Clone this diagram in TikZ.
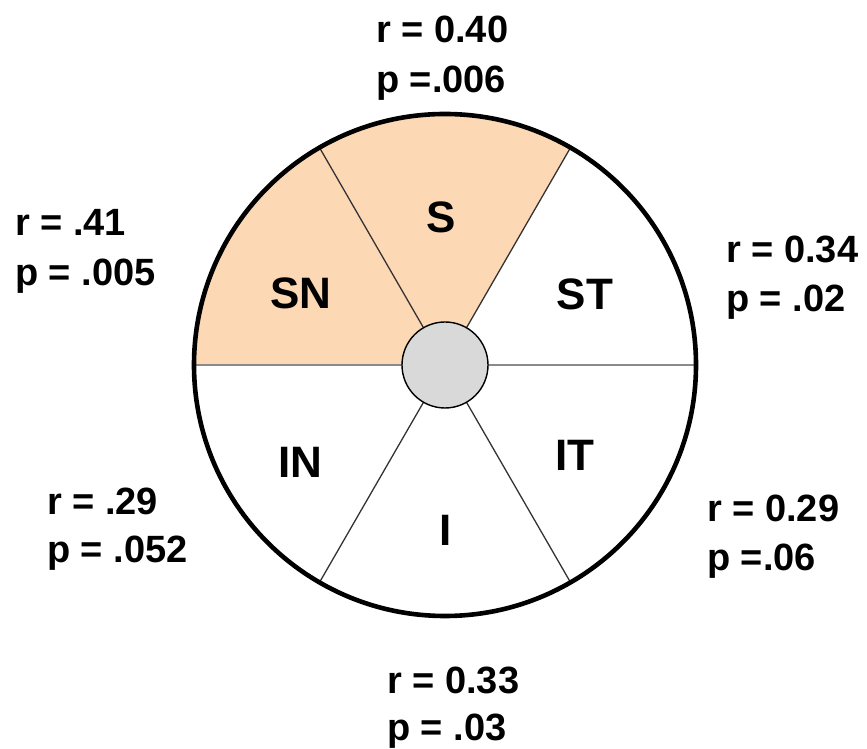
\documentclass[tikz,border=0pt]{standalone}
\usepackage{fontspec}
\setmainfont{Liberation Sans}
\definecolor{peach}{HTML}{FDD8B4}
\definecolor{innergray}{HTML}{D9D9D9}
\definecolor{spokegray}{HTML}{8A8A8A}
\definecolor{spokedark}{HTML}{333333}
\begin{document}
\begin{tikzpicture}[x=1pt,y=1pt,
  lbl/.style={inner sep=0pt,anchor=base west,font=\fontsize{38}{40}\selectfont\bfseries},
  sect/.style={inner sep=0pt,font=\fontsize{44}{46}\selectfont\bfseries},
  spoke/.style={draw=spokedark,line width=1.3pt},
  hspoke/.style={draw=spokegray,line width=2.4pt}]
\useasboundingbox (0,0) rectangle (867,749);
\coordinate (c) at (445,384);
\def\R{251}
% shaded sectors
\fill[peach] (c) -- ++(60:\R) arc[start angle=60,end angle=180,radius=\R] -- cycle;
% spokes
\path (c) ++(60:\R) coordinate (o60);
\path (c) ++(120:\R) coordinate (o120);
\path (c) ++(240:\R) coordinate (o240);
\path (c) ++(300:\R) coordinate (o300);
\path (c) ++(0:\R) coordinate (o0);
\path (c) ++(180:\R) coordinate (o180);
\draw[spoke] (c) -- (o60);
\draw[spoke] (c) -- (o120);
\draw[spoke] (c) -- (o240);
\draw[spoke] (c) -- (o300);
\draw[hspoke] (c) -- (o0);
\draw[hspoke] (c) -- (o180);
% outer circle
\draw[black,line width=4.6pt] (c) circle[radius=\R];
% inner circle
\node[circle,fill=innergray,draw=black,line width=1.4pt,minimum size=86pt,inner sep=0pt] (hub) at (c) {};
% sector labels
\node[sect] (S) at (441,749-217) {S};
\node[sect] (SN) at (301,749-293) {SN};
\node[sect] (ST) at (585,749-294) {ST};
\node[sect] (IN) at (300,749-462) {IN};
\node[sect] (I) at (446,749-530) {I};
\node[sect] (IT) at (575,749-455) {IT};
% statistics labels
\node[lbl] (Sr) at (376,749-43) {r = 0.40};
\node[lbl] (Sp) at (376,749-93) {p =.006};
\node[lbl] (SNr) at (15,749-236) {r = .41};
\node[lbl] (SNp) at (15,749-286) {p = .005};
\node[lbl] (STr) at (726,749-263) {r = 0.34};
\node[lbl] (STp) at (726,749-312) {p = .02};
\node[lbl] (INr) at (47,749-515) {r = .29};
\node[lbl] (INp) at (47,749-563) {p = .052};
\node[lbl] (ITr) at (707,749-522) {r = 0.29};
\node[lbl] (ITp) at (707,749-571) {p =.06};
\node[lbl] (Ir) at (387,749-694) {r = 0.33};
\node[lbl] (Ip) at (387,749-741) {p = .03};
\end{tikzpicture}
\end{document}
